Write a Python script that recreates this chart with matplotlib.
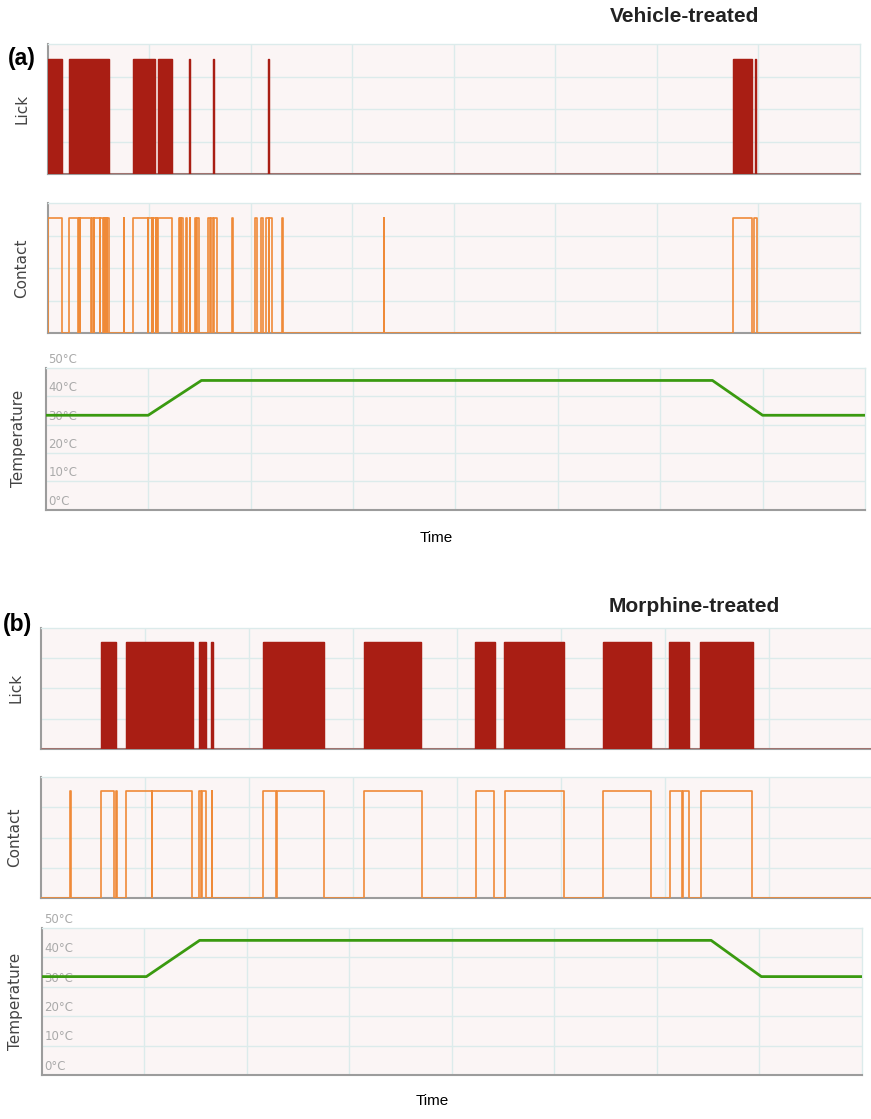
import matplotlib
matplotlib.use('Agg')
import matplotlib.pyplot as plt
import matplotlib.transforms as mtransforms

W, H = 871, 1119

# time axis in grid units (8 divisions per recording), events as (start, end)
lick_a = [(0.0, 0.144), (0.21, 0.607), (0.843, 1.060), (1.084, 1.228),
          (1.391, 1.399), (1.628, 1.636), (2.169, 2.177),
          (6.755, 6.942), (6.971, 6.979)]
contact_a = [(0.0, 0.144), (0.21, 0.300), (0.304, 0.316), (0.320, 0.431),
             (0.435, 0.457), (0.461, 0.513), (0.517, 0.546), (0.550, 0.563),
             (0.567, 0.585), (0.589, 0.607), (0.750, 0.755),
             (0.843, 0.989), (0.993, 1.023), (1.027, 1.038), (1.042, 1.065),
             (1.069, 1.082), (1.086, 1.228),
             (1.294, 1.300), (1.304, 1.312), (1.316, 1.330), (1.366, 1.372),
             (1.399, 1.405), (1.451, 1.462), (1.468, 1.491),
             (1.582, 1.600), (1.605, 1.630), (1.635, 1.665), (1.816, 1.822),
             (2.047, 2.067), (2.106, 2.126), (2.156, 2.176), (2.185, 2.214),
             (2.308, 2.323), (3.310, 3.316),
             (6.749, 6.942), (6.962, 6.985)]
temp_a_t = [0.0, 1.0, 1.52, 6.51, 7.0, 8.0]
temp_a_v = [33.3, 33.3, 45.6, 45.6, 33.3, 33.3]

lick_b = [(0.577, 0.721), (0.817, 1.462), (1.522, 1.587), (1.638, 1.654),
          (2.138, 2.724), (3.112, 3.657), (4.176, 4.368), (4.458, 5.035),
          (5.404, 5.865), (6.044, 6.237), (6.339, 6.846)]
contact_b = [(0.285, 0.291), (0.580, 0.708), (0.721, 0.734),
             (0.817, 1.067), (1.073, 1.458), (1.525, 1.541), (1.554, 1.587),
             (1.644, 1.650), (2.140, 2.265), (2.272, 2.724), (3.112, 3.669),
             (4.183, 4.359), (4.467, 5.029), (5.410, 5.868),
             (6.051, 6.169), (6.179, 6.234), (6.346, 6.839)]
temp_b_t = [0.0, 1.02, 1.54, 6.53, 7.02, 8.0]
temp_b_v = [33.4, 33.4, 45.7, 45.7, 33.4, 33.4]

temp_ticks = [0, 10, 20, 30, 40, 50]

RED = '#A91E14'
ORANGE = '#EF8A38'
GREEN = '#3A9A10'
BG = '#FBF5F5'
GRID = '#DCEBEB'
SPINE = '#9C9C9C'


def step_trace(intervals, end=8.0):
    t, y = [0.0], [0.0]
    for t0, t1 in intervals:
        t += [t0, t0, t1, t1]
        y += [0, 1, 1, 0]
    t.append(end)
    y.append(0)
    return t, y


def make_ax(fig, left, top, right, bottom):
    # pixel box -> figure fraction
    return fig.add_axes([left / W, 1 - bottom / H, (right - left) / W, (bottom - top) / H])


def style(ax, ylim, yticks):
    ax.set_facecolor(BG)
    ax.set_xlim(0, 8)
    ax.set_ylim(*ylim)
    ax.set_xticks(range(1, 8))
    ax.set_yticks(yticks)
    ax.grid(True, color=GRID, lw=1)
    ax.set_axisbelow(True)
    ax.tick_params(length=0, labelbottom=False, labelleft=False)
    for s in ['top', 'right']:
        ax.spines[s].set_color(GRID)
        ax.spines[s].set_linewidth(1)
    for s in ['left', 'bottom']:
        ax.spines[s].set_color(SPINE)
        ax.spines[s].set_linewidth(1.5)


def lick_panel(ax, intervals):
    top = 1.13
    style(ax, (0, top), [top * k / 4 for k in range(1, 4)])
    t, y = step_trace(intervals)
    ax.fill(t, y, facecolor=RED, edgecolor=RED, lw=0.9, zorder=3)
    ax.plot(t, y, color=RED, lw=0.9, alpha=0.85, zorder=3)


def contact_panel(ax, intervals):
    top = 1.13
    style(ax, (0, top), [top * k / 4 for k in range(1, 4)])
    t, y = step_trace(intervals)
    ax.plot(t, y, color=ORANGE, lw=1.2, zorder=3)


def temp_panel(ax, t, v):
    style(ax, (0, 50), temp_ticks[1:-1])
    trans = mtransforms.blended_transform_factory(ax.transAxes, ax.transData)
    for tick in temp_ticks:
        ax.text(0.003, tick + 0.7, f'{tick}°C', transform=trans, fontsize=8.5,
                color='#AAAAAA', ha='left', va='bottom', clip_on=False)
    ax.plot(t, v, color=GREEN, lw=2.0, zorder=3)


def ylabel(fig, x, y, text):
    fig.text(x / W, 1 - y / H, text, rotation=90, ha='center', va='center',
             fontsize=11, color='#444444')


fig = plt.figure(figsize=(W / 100, H / 100), dpi=100)

# (a) vehicle-treated
ax = make_ax(fig, 47.7, 44, 859.5, 174)
lick_panel(ax, lick_a)
ax = make_ax(fig, 47.7, 203, 859.5, 333)
contact_panel(ax, contact_a)
ax = make_ax(fig, 45.8, 368, 865, 509.5)
temp_panel(ax, temp_a_t, temp_a_v)
ylabel(fig, 22, 109, 'Lick')
ylabel(fig, 22, 268, 'Contact')
ylabel(fig, 19, 438, 'Temperature')
fig.text(8 / W, 1 - 58 / H, '(a)', fontsize=16.5, fontweight='bold',
         family='Liberation Sans', ha='left', va='center')
fig.text(685 / W, 1 - 16 / H, 'Vehicle-treated', fontsize=15, fontweight='bold',
         family='Liberation Sans', ha='center', va='center', color='#222222')
fig.text(436 / W, 1 - 538 / H, 'Time', fontsize=11, family='Liberation Sans',
         ha='center', va='center')

# (b) morphine-treated
ax = make_ax(fig, 40.7, 627.7, 872.7, 749)
lick_panel(ax, lick_b)
ax = make_ax(fig, 40.7, 776.7, 872.7, 898.3)
contact_panel(ax, contact_b)
ax = make_ax(fig, 41.8, 927.7, 861.8, 1075)
temp_panel(ax, temp_b_t, temp_b_v)
ylabel(fig, 16, 688, 'Lick')
ylabel(fig, 15, 837, 'Contact')
ylabel(fig, 15.5, 1001, 'Temperature')
fig.text(3 / W, 1 - 625 / H, '(b)', fontsize=16.5, fontweight='bold',
         family='Liberation Sans', ha='left', va='center')
fig.text(694 / W, 1 - 606 / H, 'Morphine-treated', fontsize=15, fontweight='bold',
         family='Liberation Sans', ha='center', va='center', color='#222222')
fig.text(432 / W, 1 - 1101 / H, 'Time', fontsize=11, family='Liberation Sans',
         ha='center', va='center')

fig.savefig('out.png', dpi=100)
